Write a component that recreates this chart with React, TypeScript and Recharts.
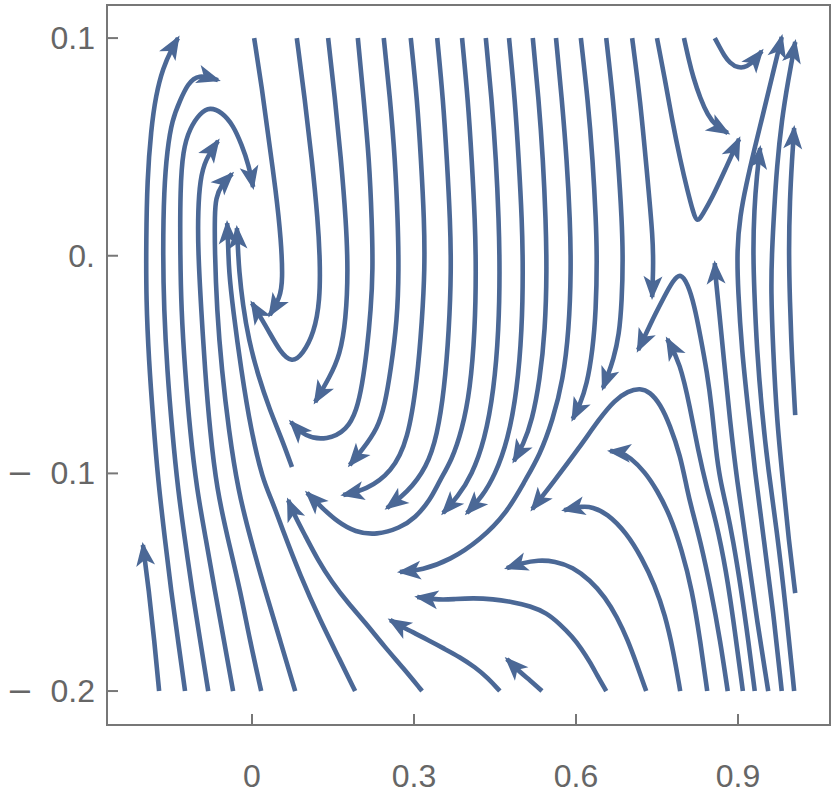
import React from 'react';
import { LineChart, Line, XAxis, YAxis, ReferenceArea } from 'recharts';

type Pt = [number, number];

const xTicks = [0, 0.3, 0.6, 0.9];
const xTickLabels = ['0', '0.3', '0.6', '0.9'];
const yTicks = [-0.2, -0.1, 0, 0.1];
const yTickLabels = ['0.2', '0.1', '0.', '0.1'];

const X_DOMAIN: [number, number] = [-0.2685, 1.0704];
const Y_DOMAIN: [number, number] = [-0.2156, 0.1152];

// each stream runs from its tail to the arrow tip
const leftShort: Pt[] = [[-0.172, -0.2], [-0.181, -0.1766], [-0.191, -0.1536], [-0.202, -0.1329]];
const leftLoop1: Pt[] = [[-0.124, -0.2], [-0.137, -0.1766], [-0.15, -0.1536], [-0.161, -0.1307], [-0.174, -0.1031], [-0.183, -0.0755], [-0.191, -0.0479], [-0.196, -0.0204], [-0.196, 0.0072], [-0.194, 0.0348], [-0.187, 0.0578], [-0.178, 0.0738], [-0.165, 0.0862], [-0.148, 0.0954], [-0.137, 0.1]];
const leftLoop2: Pt[] = [[-0.081, -0.2], [-0.096, -0.1766], [-0.111, -0.1536], [-0.124, -0.1307], [-0.137, -0.1077], [-0.148, -0.0801], [-0.157, -0.0525], [-0.163, -0.025], [-0.165, 0.0026], [-0.163, 0.0302], [-0.157, 0.0486], [-0.148, 0.0624], [-0.133, 0.0715], [-0.119, 0.0789], [-0.1, 0.0835], [-0.063, 0.0807]];
const leftLoop3: Pt[] = [[-0.035, -0.2], [-0.052, -0.1766], [-0.069, -0.1536], [-0.085, -0.1307], [-0.102, -0.1077], [-0.115, -0.0801], [-0.124, -0.0525], [-0.131, -0.025], [-0.133, 0.0026], [-0.133, 0.0302], [-0.128, 0.0486], [-0.115, 0.0587], [-0.096, 0.0656], [-0.078, 0.0683], [-0.056, 0.066], [-0.035, 0.0601], [-0.019, 0.0509], [-0.006, 0.0417], [0.002, 0.0316]];
const leftLoop4: Pt[] = [[0.017, -0.2], [-0.004, -0.1766], [-0.022, -0.1536], [-0.044, -0.1307], [-0.065, -0.1077], [-0.078, -0.0801], [-0.087, -0.0525], [-0.094, -0.025], [-0.1, 0.0026], [-0.1, 0.021], [-0.096, 0.0348], [-0.087, 0.044], [-0.063, 0.0527]];
const leftLoop5: Pt[] = [[0.08, -0.2], [0.052, -0.1766], [0.024, -0.1536], [-0.002, -0.1307], [-0.026, -0.1077], [-0.043, -0.0801], [-0.056, -0.0525], [-0.065, -0.025], [-0.069, 0.0026], [-0.069, 0.0187], [-0.067, 0.0265], [-0.057, 0.0325], [-0.037, 0.0376]];
const leftRise6: Pt[] = [[0.191, -0.2], [0.163, -0.1858], [0.126, -0.1674], [0.089, -0.1467], [0.057, -0.1261], [0.037, -0.1123], [0.02, -0.1031], [-0.002, -0.0801], [-0.02, -0.0525], [-0.035, -0.025], [-0.043, -0.0066], [-0.044, 0.0049], [-0.046, 0.015]];
const leftRise7: Pt[] = [[0.074, -0.0971], [0.056, -0.0847], [0.033, -0.0709], [0.011, -0.0548], [-0.006, -0.0387], [-0.017, -0.0226], [-0.024, -0.0066], [-0.026, 0.0035], [-0.028, 0.0127]];

const topFlow1: Pt[] = [[0.004, 0.1], [0.019, 0.0761], [0.031, 0.0532], [0.044, 0.0302], [0.054, 0.0072], [0.057, -0.0112], [0.052, -0.0194], [0.033, -0.0272]];
const topFlow2: Pt[] = [[0.083, 0.1], [0.098, 0.0715], [0.111, 0.044], [0.122, 0.0164], [0.126, -0.002], [0.126, -0.0204], [0.115, -0.0355], [0.094, -0.0452], [0.074, -0.0493], [0.052, -0.0442], [0.03, -0.0341], [0, -0.0217]];
const topFlow3: Pt[] = [[0.141, 0.1], [0.154, 0.0715], [0.165, 0.044], [0.174, 0.0164], [0.178, -0.0066], [0.174, -0.0295], [0.163, -0.0456], [0.144, -0.0557], [0.117, -0.0672]];
const topFlow4: Pt[] = [[0.196, 0.1], [0.207, 0.0715], [0.217, 0.044], [0.222, 0.0164], [0.224, -0.0066], [0.22, -0.025], [0.213, -0.0433], [0.204, -0.0594], [0.194, -0.0709], [0.176, -0.0801], [0.139, -0.0847], [0.098, -0.0833], [0.072, -0.0764]];
const topFlow5: Pt[] = [[0.244, 0.1], [0.256, 0.0715], [0.265, 0.044], [0.27, 0.0164], [0.272, -0.0066], [0.269, -0.0295], [0.257, -0.0525], [0.246, -0.0686], [0.233, -0.0792], [0.204, -0.0893], [0.181, -0.0961]];
const topFlow6: Pt[] = [[0.294, 0.1], [0.306, 0.0715], [0.313, 0.044], [0.319, 0.0164], [0.32, -0.0066], [0.315, -0.0295], [0.306, -0.0571], [0.289, -0.0847], [0.259, -0.0994], [0.211, -0.1077], [0.169, -0.1099]];
const topFlow7: Pt[] = [[0.343, 0.1], [0.354, 0.0715], [0.361, 0.044], [0.367, 0.0164], [0.369, -0.0066], [0.365, -0.0341], [0.356, -0.0617], [0.343, -0.0824], [0.324, -0.0971], [0.287, -0.109], [0.25, -0.1159]];
const topFlow8: Pt[] = [[0.389, 0.1], [0.4, 0.0715], [0.407, 0.044], [0.413, 0.0164], [0.415, -0.0066], [0.413, -0.0341], [0.404, -0.0617], [0.389, -0.0801], [0.37, -0.0939], [0.348, -0.1031], [0.33, -0.1123], [0.302, -0.1205], [0.274, -0.1251], [0.231, -0.1283], [0.191, -0.127], [0.159, -0.1224], [0.13, -0.1159], [0.102, -0.109]];
const topFlow9: Pt[] = [[0.433, 0.1], [0.444, 0.0715], [0.452, 0.044], [0.457, 0.0164], [0.459, -0.0066], [0.457, -0.0341], [0.448, -0.0617], [0.431, -0.0847], [0.407, -0.1008], [0.381, -0.1108], [0.354, -0.1182]];
const topFlow10: Pt[] = [[0.476, 0.1], [0.487, 0.0715], [0.494, 0.044], [0.5, 0.0164], [0.502, -0.0066], [0.5, -0.0341], [0.491, -0.0617], [0.474, -0.0847], [0.45, -0.1008], [0.426, -0.1108], [0.398, -0.1182]];
const topFlow11: Pt[] = [[0.52, 0.1], [0.531, 0.0715], [0.539, 0.044], [0.544, 0.0164], [0.546, -0.0066], [0.543, -0.0341], [0.533, -0.0571], [0.519, -0.0755], [0.502, -0.087], [0.485, -0.0943]];
const topFlow12: Pt[] = [[0.563, 0.1], [0.574, 0.0715], [0.583, 0.044], [0.589, 0.0164], [0.591, -0.0066], [0.587, -0.0341], [0.576, -0.0571], [0.557, -0.0755], [0.533, -0.0916], [0.506, -0.1031], [0.472, -0.1182], [0.422, -0.1307], [0.367, -0.1398], [0.315, -0.1444], [0.274, -0.1453]];
const topFlow13: Pt[] = [[0.609, 0.1], [0.622, 0.0715], [0.631, 0.044], [0.637, 0.0164], [0.639, -0.002], [0.637, -0.025], [0.631, -0.0433], [0.62, -0.0594], [0.607, -0.0686], [0.594, -0.075]];
const topFlow14: Pt[] = [[0.656, 0.1], [0.669, 0.0715], [0.678, 0.044], [0.685, 0.0164], [0.687, -0.002], [0.685, -0.0204], [0.68, -0.0364], [0.669, -0.0479], [0.659, -0.0548], [0.65, -0.0608]];
const topFlow15: Pt[] = [[0.704, 0.1], [0.719, 0.0715], [0.731, 0.0394], [0.743, 0.0072], [0.743, -0.0066], [0.741, -0.019]];
const topV: Pt[] = [[0.75, 0.1], [0.765, 0.0807], [0.778, 0.0624], [0.793, 0.044], [0.807, 0.0293], [0.817, 0.0201], [0.824, 0.015], [0.835, 0.0192], [0.852, 0.0265], [0.876, 0.0394], [0.902, 0.0536]];
const topBend: Pt[] = [[0.8, 0.1], [0.809, 0.0899], [0.817, 0.0821], [0.83, 0.0724], [0.844, 0.0646], [0.859, 0.0596], [0.881, 0.0564]];
const topHook: Pt[] = [[0.857, 0.1], [0.865, 0.0963], [0.874, 0.0922], [0.885, 0.0885], [0.9, 0.0862], [0.917, 0.0867], [0.931, 0.0899], [0.944, 0.094]];

const rightRise1: Pt[] = [[0.956, -0.2], [0.935, -0.1674], [0.917, -0.1352], [0.898, -0.1031], [0.885, -0.0755], [0.874, -0.0479], [0.865, -0.025], [0.859, -0.0112], [0.857, -0.0034]];
const rightRise2: Pt[] = [[0.981, -0.2], [0.965, -0.1628], [0.948, -0.1307], [0.931, -0.0985], [0.919, -0.0709], [0.907, -0.0433], [0.9, -0.0158], [0.898, 0.0026], [0.904, 0.0187], [0.915, 0.0325], [0.93, 0.0486], [0.946, 0.0646], [0.963, 0.0821], [0.981, 0.1005]];
const rightRise3: Pt[] = [[1.004, -0.2], [0.989, -0.1628], [0.972, -0.1261], [0.956, -0.0985], [0.944, -0.0709], [0.935, -0.0433], [0.93, -0.0158], [0.928, 0.0026], [0.93, 0.021], [0.935, 0.0371], [0.941, 0.0495]];
const rightEdgeA: Pt[] = [[1.006, -0.155], [0.994, -0.1307], [0.983, -0.1031], [0.972, -0.0755], [0.965, -0.0433], [0.961, -0.0158], [0.963, 0.0026], [0.967, 0.021], [0.972, 0.0407], [0.981, 0.0624], [0.993, 0.0807], [1.006, 0.0982]];
const rightEdgeB: Pt[] = [[1.006, -0.0732], [1.0, -0.0479], [0.996, -0.0204], [0.994, 0.0026], [0.996, 0.0256], [1.0, 0.044], [1.004, 0.0587]];

const bottomBack1: Pt[] = [[0.656, -0.2], [0.639, -0.1927], [0.626, -0.1867], [0.609, -0.1802], [0.594, -0.1752], [0.57, -0.1692], [0.546, -0.1641], [0.515, -0.1609], [0.483, -0.1591], [0.446, -0.1577], [0.409, -0.1573], [0.376, -0.1577], [0.348, -0.1582], [0.306, -0.1568]];
const bottomBack2: Pt[] = [[0.73, -0.2], [0.713, -0.1881], [0.696, -0.1766], [0.676, -0.166], [0.654, -0.1568], [0.626, -0.149], [0.594, -0.143], [0.561, -0.1403], [0.53, -0.1398], [0.5, -0.1412], [0.472, -0.1435]];
const bottomBack3: Pt[] = [[0.793, -0.2], [0.78, -0.1812], [0.765, -0.1651], [0.746, -0.1513], [0.722, -0.1389], [0.694, -0.1274], [0.657, -0.1182], [0.63, -0.1155], [0.613, -0.115], [0.578, -0.1169]];
const bottomBack4: Pt[] = [[0.843, -0.2], [0.83, -0.1766], [0.815, -0.1536], [0.796, -0.1352], [0.774, -0.1191], [0.75, -0.1077], [0.728, -0.0994], [0.7, -0.0925], [0.681, -0.0902], [0.663, -0.0897]];
const peakA: Pt[] = [[0.881, -0.2], [0.867, -0.1766], [0.85, -0.1536], [0.83, -0.1307], [0.815, -0.1169], [0.806, -0.1077], [0.793, -0.0916], [0.774, -0.0778], [0.756, -0.0681], [0.737, -0.0626], [0.719, -0.0608], [0.696, -0.0622], [0.672, -0.0663], [0.644, -0.0746], [0.607, -0.0879], [0.557, -0.1044], [0.519, -0.1164]];
const peakInner: Pt[] = [[0.909, -0.2], [0.894, -0.172], [0.878, -0.1444], [0.859, -0.1215], [0.843, -0.1077], [0.826, -0.0893], [0.811, -0.0695], [0.793, -0.0493], [0.769, -0.0383]];
const peakC: Pt[] = [[0.931, -0.2], [0.919, -0.1766], [0.906, -0.1536], [0.891, -0.1307], [0.878, -0.1146], [0.867, -0.1031], [0.859, -0.0893], [0.852, -0.0709], [0.843, -0.0539], [0.83, -0.0364], [0.819, -0.0226], [0.807, -0.013], [0.794, -0.0079], [0.78, -0.0112], [0.763, -0.019], [0.746, -0.0272], [0.731, -0.0351], [0.715, -0.0433]];

const lowRise1: Pt[] = [[0.315, -0.2], [0.28, -0.1894], [0.246, -0.1798], [0.209, -0.1683], [0.178, -0.1596], [0.148, -0.15], [0.122, -0.1398], [0.098, -0.1283], [0.081, -0.1205], [0.067, -0.1123]];
const lowRise2: Pt[] = [[0.459, -0.2], [0.437, -0.194], [0.413, -0.189], [0.385, -0.1844], [0.357, -0.1807], [0.326, -0.1766], [0.298, -0.1729], [0.274, -0.1701], [0.256, -0.1674]];
const lowRise3: Pt[] = [[0.537, -0.2], [0.515, -0.195], [0.496, -0.1913], [0.472, -0.1853]];

const streams: Pt[][] = [
  leftShort, leftLoop1, leftLoop2, leftLoop3, leftLoop4, leftLoop5, leftRise6, leftRise7,
  topFlow1, topFlow2, topFlow3, topFlow4, topFlow5, topFlow6, topFlow7, topFlow8,
  topFlow9, topFlow10, topFlow11, topFlow12, topFlow13, topFlow14, topFlow15,
  topV, topBend, topHook,
  rightRise1, rightRise2, rightRise3, rightEdgeA, rightEdgeB,
  bottomBack1, bottomBack2, bottomBack3, bottomBack4, peakA, peakInner, peakC,
  lowRise1, lowRise2, lowRise3,
];

const STREAM_COLOR = '#4b6896';
const FRAME_COLOR = '#777777';
const LABEL_COLOR = '#666666';
const FONT = '"Liberation Sans", Arial, sans-serif';

function XTick(props: any) {
  const { x, y, payload } = props;
  const label = xTickLabels[xTicks.indexOf(payload.value)];
  return (
    <g>
      <line x1={x} x2={x} y1={y} y2={y - 11} stroke={FRAME_COLOR} strokeWidth={2} />
      <text x={x} y={y + 62} textAnchor="middle" fontSize={32} fill={LABEL_COLOR} fontFamily={FONT}>
        {label}
      </text>
    </g>
  );
}

function YTick(props: any) {
  const { x, y, payload } = props;
  const i = yTicks.indexOf(payload.value);
  const negative = payload.value < 0;
  return (
    <g>
      <line x1={x} x2={x + 11} y1={y} y2={y} stroke={FRAME_COLOR} strokeWidth={2} />
      <text x={x - 12} y={y + 11} textAnchor="end" fontSize={32} fill={LABEL_COLOR} fontFamily={FONT}>
        {negative && <tspan fontFamily='"DejaVu Sans", sans-serif'>{'\u2212'}</tspan>}
        <tspan dx={negative ? 17 : 0}>{yTickLabels[i]}</tspan>
      </text>
    </g>
  );
}

export default function App() {
  return (
    <div style={{ position: 'absolute', left: 0, top: 0, width: 839, height: 806, background: '#fff' }}>
      <svg width={0} height={0} style={{ position: 'absolute' }}>
        <defs>
          <marker
            id="streamArrow"
            viewBox="-26 -11 30 22"
            refX={-3}
            refY={0}
            markerWidth={30}
            markerHeight={22}
            markerUnits="userSpaceOnUse"
            orient="auto"
          >
            <path d="M0,0 L-24,-9.5 L-18,0 L-24,9.5 Z" fill={STREAM_COLOR} />
          </marker>
        </defs>
      </svg>
      <LineChart width={839} height={806} margin={{ top: 5, right: 9, bottom: 31, left: 10 }}>
        <XAxis
          type="number"
          dataKey="x"
          domain={X_DOMAIN}
          ticks={xTicks}
          interval={0}
          allowDataOverflow
          height={50}
          tickSize={0}
          tickMargin={0}
          axisLine={false}
          tickLine={false}
          tick={(p: any) => <XTick {...p} />}
        />
        <YAxis
          type="number"
          dataKey="y"
          domain={Y_DOMAIN}
          ticks={yTicks}
          interval={0}
          allowDataOverflow
          width={97}
          tickSize={0}
          tickMargin={0}
          axisLine={false}
          tickLine={false}
          tick={(p: any) => <YTick {...p} />}
        />
        {streams.map((s, i) => (
          <Line
            key={i}
            data={s.map(([x, y]) => ({ x, y }))}
            dataKey="y"
            type="basis"
            stroke={STREAM_COLOR}
            strokeWidth={4.6}
            dot={false}
            activeDot={false}
            isAnimationActive={false}
            markerEnd="url(#streamArrow)"
          />
        ))}
        <ReferenceArea
          x1={X_DOMAIN[0]}
          x2={X_DOMAIN[1]}
          y1={Y_DOMAIN[0]}
          y2={Y_DOMAIN[1]}
          fill="none"
          stroke={FRAME_COLOR}
          strokeWidth={2}
          ifOverflow="visible"
        />
      </LineChart>
    </div>
  );
}
